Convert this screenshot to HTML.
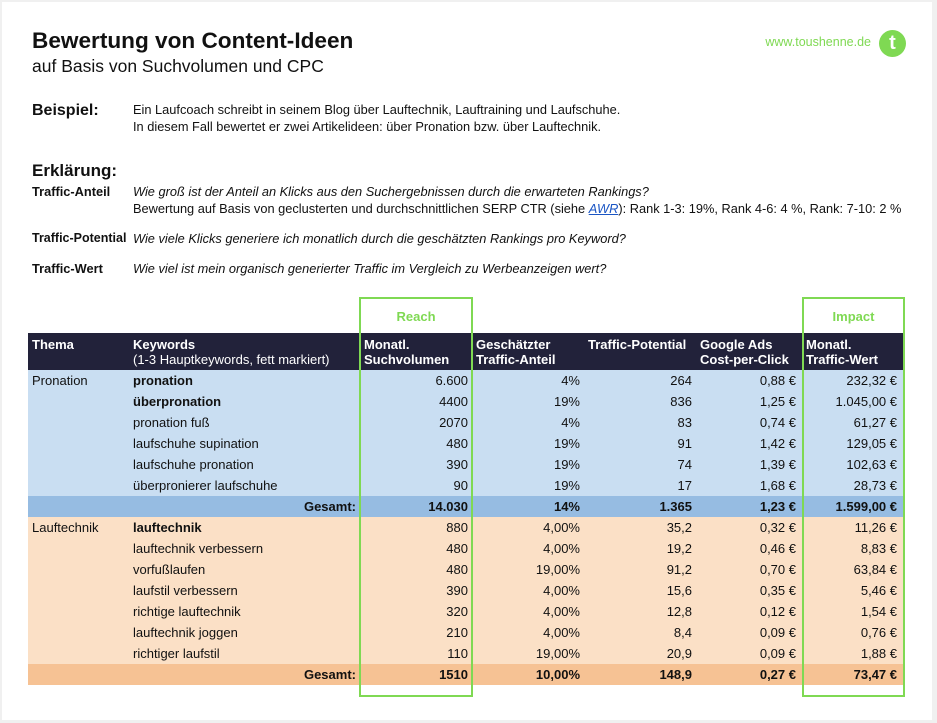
<!DOCTYPE html>
<html><head><meta charset="utf-8"><style>
*{margin:0;padding:0;box-sizing:border-box}
body{width:937px;height:723px;background:#f0f0f0;font-family:"Liberation Sans",Arial,sans-serif;color:#111;position:relative;overflow:hidden}
.card{position:absolute;left:2px;top:2px;width:930px;height:718px;background:#fff}
.a{position:absolute;white-space:nowrap}
.t13{font-size:12.8px;line-height:17px}
.b{font-weight:bold}
.i{font-style:italic}
table{position:absolute;left:28px;top:333px;border-collapse:collapse;table-layout:fixed;width:876px;font-size:13px}
td{height:21px;padding:0 4px;white-space:nowrap;line-height:21px}
td.r{text-align:right}
tr.h td{background:#22223a;color:#fff;font-weight:bold;height:37px;line-height:15px;vertical-align:top;padding-top:4px}
tr.p td{background:#c9def2}
tr.pg td{background:#96bce2;font-weight:bold}
tr.o td{background:#fbe0c6}
tr.og td{background:#f6c294;font-weight:bold}
.box{position:absolute;border:2px solid #7fd953;top:297px;height:400px}
.lab{position:absolute;top:309px;color:#7fd953;font-weight:bold;font-size:13px;text-align:center}
</style></head><body>
<div class="card"></div>
<div class="a b" style="left:32px;top:26px;font-size:22.6px;line-height:30px">Bewertung von Content-Ideen</div>
<div class="a" style="left:32px;top:55px;font-size:17.5px;line-height:22px">auf Basis von Suchvolumen und CPC</div>
<div class="a" style="right:66px;top:34px;font-size:12.5px;line-height:17px;color:#7fd953">www.toushenne.de</div>
<div class="a" style="left:879px;top:30px;width:27px;height:27px;border-radius:50%;background:#7fd953;color:#fff;font-weight:bold;font-size:20px;line-height:27px;text-align:center">t</div>
<div class="a b" style="left:32px;top:101px;font-size:16px;line-height:20px">Beispiel:</div>
<div class="a t13" style="left:133px;top:101px">Ein Laufcoach schreibt in seinem Blog über Lauftechnik, Lauftraining und Laufschuhe.</div>
<div class="a t13" style="left:133px;top:118px">In diesem Fall bewertet er zwei Artikelideen: über Pronation bzw. über Lauftechnik.</div>
<div class="a b" style="left:32px;top:160px;font-size:17px;line-height:21px">Erklärung:</div>
<div class="a t13 b" style="left:32px;top:183px">Traffic-Anteil</div>
<div class="a t13 i" style="left:133px;top:183px">Wie groß ist der Anteil an Klicks aus den Suchergebnissen durch die erwarteten Rankings?</div>
<div class="a t13" style="left:133px;top:200px">Bewertung auf Basis von geclusterten und durchschnittlichen SERP CTR (siehe <span class="i" style="color:#1a55c4;text-decoration:underline">AWR</span>): Rank 1-3: 19%, Rank 4-6: 4 %, Rank: 7-10: 2 %</div>
<div class="a t13 b" style="left:32px;top:230px;font-size:12.5px">Traffic-Potential</div>
<div class="a t13 i" style="left:133px;top:230px">Wie viele Klicks generiere ich monatlich durch die geschätzten Rankings pro Keyword?</div>
<div class="a t13 b" style="left:32px;top:260px">Traffic-Wert</div>
<div class="a t13 i" style="left:133px;top:260px">Wie viel ist mein organisch generierter Traffic im Vergleich zu Werbeanzeigen wert?</div>
<table>
<colgroup><col style="width:100px"><col style="width:232px"><col style="width:112px"><col style="width:112px"><col style="width:112px"><col style="width:104px"><col style="width:104px"></colgroup>
<tr class="h"><td>Thema</td><td style="padding-left:5px">Keywords<br><span style="font-weight:normal">(1-3 Hauptkeywords, fett markiert)</span></td><td>Monatl.<br>Suchvolumen</td><td>Geschätzter<br>Traffic-Anteil</td><td>Traffic-Potential</td><td>Google Ads<br>Cost-per-Click</td><td style="padding-left:6px">Monatl.<br>Traffic-Wert</td></tr>
<tr class="p"><td>Pronation</td><td class="b" style="padding-left:5px">pronation</td><td class="r">6.600</td><td class="r">4%</td><td class="r">264</td><td class="r">0,88 €</td><td class="r" style="padding-right:7px">232,32 €</td></tr>
<tr class="p"><td></td><td class="b" style="padding-left:5px">überpronation</td><td class="r">4400</td><td class="r">19%</td><td class="r">836</td><td class="r">1,25 €</td><td class="r" style="padding-right:7px">1.045,00 €</td></tr>
<tr class="p"><td></td><td style="padding-left:5px">pronation fuß</td><td class="r">2070</td><td class="r">4%</td><td class="r">83</td><td class="r">0,74 €</td><td class="r" style="padding-right:7px">61,27 €</td></tr>
<tr class="p"><td></td><td style="padding-left:5px">laufschuhe supination</td><td class="r">480</td><td class="r">19%</td><td class="r">91</td><td class="r">1,42 €</td><td class="r" style="padding-right:7px">129,05 €</td></tr>
<tr class="p"><td></td><td style="padding-left:5px">laufschuhe pronation</td><td class="r">390</td><td class="r">19%</td><td class="r">74</td><td class="r">1,39 €</td><td class="r" style="padding-right:7px">102,63 €</td></tr>
<tr class="p"><td></td><td style="padding-left:5px">überpronierer laufschuhe</td><td class="r">90</td><td class="r">19%</td><td class="r">17</td><td class="r">1,68 €</td><td class="r" style="padding-right:7px">28,73 €</td></tr>
<tr class="pg"><td></td><td class="r">Gesamt:</td><td class="r">14.030</td><td class="r">14%</td><td class="r">1.365</td><td class="r">1,23 €</td><td class="r" style="padding-right:7px">1.599,00 €</td></tr>
<tr class="o"><td>Lauftechnik</td><td class="b" style="padding-left:5px">lauftechnik</td><td class="r">880</td><td class="r">4,00%</td><td class="r">35,2</td><td class="r">0,32 €</td><td class="r" style="padding-right:7px">11,26 €</td></tr>
<tr class="o"><td></td><td style="padding-left:5px">lauftechnik verbessern</td><td class="r">480</td><td class="r">4,00%</td><td class="r">19,2</td><td class="r">0,46 €</td><td class="r" style="padding-right:7px">8,83 €</td></tr>
<tr class="o"><td></td><td style="padding-left:5px">vorfußlaufen</td><td class="r">480</td><td class="r">19,00%</td><td class="r">91,2</td><td class="r">0,70 €</td><td class="r" style="padding-right:7px">63,84 €</td></tr>
<tr class="o"><td></td><td style="padding-left:5px">laufstil verbessern</td><td class="r">390</td><td class="r">4,00%</td><td class="r">15,6</td><td class="r">0,35 €</td><td class="r" style="padding-right:7px">5,46 €</td></tr>
<tr class="o"><td></td><td style="padding-left:5px">richtige lauftechnik</td><td class="r">320</td><td class="r">4,00%</td><td class="r">12,8</td><td class="r">0,12 €</td><td class="r" style="padding-right:7px">1,54 €</td></tr>
<tr class="o"><td></td><td style="padding-left:5px">lauftechnik joggen</td><td class="r">210</td><td class="r">4,00%</td><td class="r">8,4</td><td class="r">0,09 €</td><td class="r" style="padding-right:7px">0,76 €</td></tr>
<tr class="o"><td></td><td style="padding-left:5px">richtiger laufstil</td><td class="r">110</td><td class="r">19,00%</td><td class="r">20,9</td><td class="r">0,09 €</td><td class="r" style="padding-right:7px">1,88 €</td></tr>
<tr class="og"><td></td><td class="r">Gesamt:</td><td class="r">1510</td><td class="r">10,00%</td><td class="r">148,9</td><td class="r">0,27 €</td><td class="r" style="padding-right:7px">73,47 €</td></tr>
</table>
<div class="box" style="left:359px;width:114px"></div>
<div class="box" style="left:802px;width:103px"></div>
<div class="lab" style="left:359px;width:114px">Reach</div>
<div class="lab" style="left:802px;width:103px">Impact</div>
</body></html>
